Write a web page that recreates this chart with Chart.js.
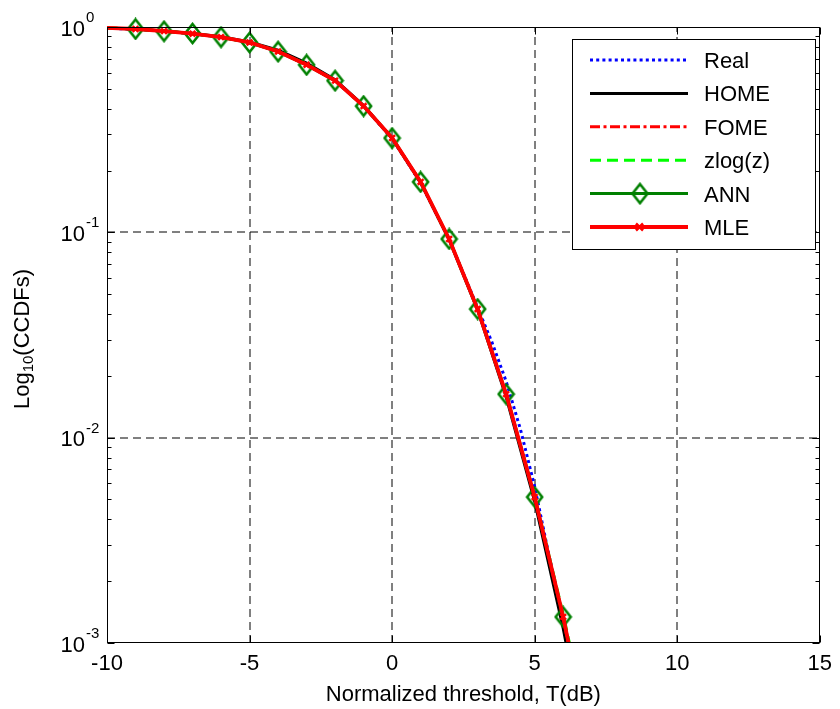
<!DOCTYPE html>
<html>
<head>
<meta charset="utf-8">
<script src="https://cdn.jsdelivr.net/npm/chart.js@4.4.1/dist/chart.umd.min.js"></script>
<style>
html, body { margin: 0; padding: 0; background: #fff; }
</style>
</head>
<body>
<canvas id="ccdfChart" width="840" height="709"></canvas>
<script>
var FONT = "Arial, 'Liberation Sans', Helvetica, sans-serif";

// threshold grid used by the fitted models (dB)
var thresholdDb = [-10, -9, -8, -7, -6, -5, -4, -3, -2, -1, 0, 1, 2, 3, 4, 5, 6, 6.5];
var homeCcdf = [0.99, 0.979, 0.956, 0.930, 0.896, 0.846, 0.772, 0.668, 0.553, 0.414, 0.287, 0.175, 0.0920, 0.0418, 0.0158, 0.00490, 0.00118, 0.00052];
var fomeCcdf = [0.99, 0.978, 0.955, 0.928, 0.893, 0.841, 0.762, 0.656, 0.549, 0.412, 0.288, 0.176, 0.0926, 0.0422, 0.0162, 0.00512, 0.00132, 0.00060];
var zlogCcdf = [0.99, 0.978, 0.955, 0.928, 0.893, 0.841, 0.761, 0.655, 0.548, 0.412, 0.288, 0.176, 0.0927, 0.0423, 0.0164, 0.00518, 0.00138, 0.00066];
var annCcdf  = [null, 0.978, 0.953, 0.930, 0.892, 0.840, 0.759, 0.654, 0.548, 0.412, 0.288, 0.176, 0.0928, 0.0423, 0.0163, 0.00514, 0.00134, 0.00062];
var mleCcdf  = [0.99, 0.978, 0.955, 0.928, 0.893, 0.841, 0.760, 0.655, 0.548, 0.412, 0.288, 0.176, 0.0928, 0.0423, 0.0163, 0.00514, 0.00134, 0.00062];

// measured (empirical) curve has a finer grid in the tail
var realDb   = [-10, -9, -8, -7, -6, -5, -4, -3, -2, -1, 0, 1, 2, 3, 3.5, 4, 4.5, 5, 5.5, 6, 6.5];
var realCcdf = [0.985, 0.976, 0.953, 0.927, 0.892, 0.840, 0.760, 0.655, 0.548, 0.411, 0.286, 0.174, 0.0925, 0.0430, 0.0292, 0.0188, 0.0110, 0.00578, 0.00268, 0.00132, 0.00060];

var xTicks = [-10, -5, 0, 5, 10, 15];
var yExponents = [0, -1, -2, -3];
var seriesNames = ['Real', 'HOME', 'FOME', 'zlog(z)', 'ANN', 'MLE'];

var toPoints = function(xs, ys) {
	var pts = [];
	for (var i = 0; i < xs.length; i++) {
		if (ys[i] === null) continue;
		pts.push({x: xs[i], y: ys[i]});
	}
	return pts;
};

// open diamond marker, a bit taller than wide
var makeDiamond = function(w, h, color, lw) {
	var c = document.createElement('canvas');
	c.width = w + 4; c.height = h + 4;
	var g = c.getContext('2d');
	g.strokeStyle = color;
	g.lineWidth = lw;
	g.beginPath();
	g.moveTo(c.width / 2, 2);
	g.lineTo(c.width - 2, c.height / 2);
	g.lineTo(c.width / 2, c.height - 2);
	g.lineTo(2, c.height / 2);
	g.closePath();
	g.stroke();
	return c;
};
var diamond = makeDiamond(15, 19, '#008000', 2.6);

var hideOffAxis = function(r) {
	return function(ctx) {
		var p = ctx.raw;
		return (p && (p.x < -9.5 || p.x > 6.2)) ? 0 : r;
	};
};

var CLIP = {left: 2, top: 14, right: 2, bottom: 0};

var datasets = [
	{label: seriesNames[0], data: toPoints(realDb, realCcdf), borderColor: '#0000ff', borderWidth: 3, borderDash: [3, 3.2], pointRadius: 0, order: 5},
	{label: seriesNames[1], data: toPoints(thresholdDb, homeCcdf), borderColor: '#000000', borderWidth: 3, pointRadius: 0, order: 4},
	{label: seriesNames[2], data: toPoints(thresholdDb, fomeCcdf), borderColor: '#ff0000', borderWidth: 3, borderDash: [10, 3.5, 3, 3.5], pointRadius: 0, order: 3},
	{label: seriesNames[3], data: toPoints(thresholdDb, zlogCcdf), borderColor: '#00ff00', borderWidth: 3, borderDash: [11, 6], pointRadius: 0, order: 2},
	{label: seriesNames[4], data: toPoints(thresholdDb, annCcdf), borderColor: '#008000', borderWidth: 3, pointStyle: diamond, pointRadius: hideOffAxis(8), order: 1},
	{label: seriesNames[5], data: toPoints(thresholdDb, mleCcdf), borderColor: '#ff0000', borderWidth: 3.8, pointStyle: 'crossRot', pointRadius: hideOffAxis(4), pointBorderWidth: 2.5, pointBorderColor: '#ff0000', order: 0}
];
datasets.forEach(function(d) {
	d.fill = false;
	d.tension = 0;
	d.clip = CLIP;
	d.pointHoverRadius = 0;
});

// dashed grid under the curves
var gridPlugin = {
	id: 'matlabGrid',
	beforeDatasetsDraw: function(chart) {
		var ctx = chart.ctx, a = chart.chartArea;
		var xs = chart.scales.x, ys = chart.scales.y;
		ctx.save();
		ctx.strokeStyle = '#000';
		ctx.lineWidth = 1;
		ctx.setLineDash([8, 5]);
		[-5, 0, 5, 10].forEach(function(v) {
			var x = Math.round(xs.getPixelForValue(v));
			ctx.beginPath(); ctx.moveTo(x, a.bottom); ctx.lineTo(x, a.top); ctx.stroke();
		});
		[0.1, 0.01].forEach(function(v) {
			var y = Math.round(ys.getPixelForValue(v));
			ctx.beginPath(); ctx.moveTo(a.left, y); ctx.lineTo(a.right, y); ctx.stroke();
		});
		ctx.restore();
	},
	afterDatasetsDraw: function(chart) {
		var ctx = chart.ctx, a = chart.chartArea;
		var xs = chart.scales.x, ys = chart.scales.y;
		var L = Math.round(a.left) + 0.5, R = Math.round(a.right) - 0.5;
		var T = Math.round(a.top) + 0.5, B = Math.round(a.bottom) - 0.5;
		ctx.save();
		ctx.strokeStyle = '#000';
		ctx.lineWidth = 1;
		ctx.strokeRect(L, T, R - L, B - T);
		ctx.beginPath();
		xTicks.forEach(function(v) {
			var x = Math.round(xs.getPixelForValue(v)) + 0.5;
			ctx.moveTo(x, B); ctx.lineTo(x, B - 7);
			ctx.moveTo(x, T); ctx.lineTo(x, T + 7);
		});
		[0.001, 0.01, 0.1].forEach(function(d) {
			for (var k = 1; k <= 10; k++) {
				var y = Math.round(ys.getPixelForValue(k * d)) + 0.5;
				var len = (k === 1 || k === 10) ? 7 : 4;
				ctx.moveTo(L, y); ctx.lineTo(L + len, y);
				ctx.moveTo(R, y); ctx.lineTo(R - len, y);
			}
		});
		ctx.stroke();
		ctx.restore();
	}
};

// power-of-ten labels, y title and the boxed legend
var labelPlugin = {
	id: 'labels',
	afterDraw: function(chart) {
		var ctx = chart.ctx;
		var ys = chart.scales.y;
		ctx.save();
		ctx.fillStyle = '#000';
		yExponents.forEach(function(e) {
			var y = ys.getPixelForValue(Math.pow(10, e));
			ctx.font = '22px ' + FONT;
			ctx.textAlign = 'right';
			ctx.textBaseline = 'alphabetic';
			ctx.fillText('10', 85, y + 8.5);
			ctx.font = '15px ' + FONT;
			ctx.textAlign = 'left';
			ctx.fillText(String(e), 86, y - 5);
		});

		// Log10(CCDFs), rotated
		ctx.save();
		ctx.translate(29, 339);
		ctx.rotate(-Math.PI / 2);
		ctx.textAlign = 'left';
		ctx.textBaseline = 'alphabetic';
		ctx.font = '22px ' + FONT;
		var w1 = ctx.measureText('Log').width;
		var w3 = ctx.measureText('(CCDFs)').width;
		ctx.font = '15px ' + FONT;
		var w2 = ctx.measureText('10').width;
		var u = -(w1 + w2 + w3) / 2;
		ctx.font = '22px ' + FONT;
		ctx.fillText('Log', u, 0);
		ctx.font = '15px ' + FONT;
		ctx.fillText('10', u + w1, 4);
		ctx.font = '22px ' + FONT;
		ctx.fillText('(CCDFs)', u + w1 + w2, 0);
		ctx.restore();

		// legend box
		var bx = 572.5, by = 39.5, bw = 243, bh = 210;
		ctx.fillStyle = '#fff';
		ctx.fillRect(bx, by, bw, bh);
		ctx.strokeStyle = '#000';
		ctx.lineWidth = 1;
		ctx.strokeRect(bx, by, bw, bh);
		chart.data.datasets.forEach(function(d, i) {
			var ry = 60 + i * 33.4;
			ctx.save();
			ctx.strokeStyle = d.borderColor;
			ctx.lineWidth = d.borderWidth;
			ctx.setLineDash(d.borderDash || []);
			ctx.beginPath(); ctx.moveTo(590, ry); ctx.lineTo(688, ry); ctx.stroke();
			ctx.setLineDash([]);
			if (d.pointStyle === diamond) {
				ctx.drawImage(diamond, 640 - diamond.width / 2, ry - diamond.height / 2);
			} else if (d.pointStyle === 'crossRot') {
				ctx.lineWidth = 2.5;
				ctx.beginPath();
				ctx.moveTo(636, ry - 3.5); ctx.lineTo(643, ry + 3.5);
				ctx.moveTo(643, ry - 3.5); ctx.lineTo(636, ry + 3.5);
				ctx.stroke();
			}
			ctx.restore();
			ctx.fillStyle = '#000';
			ctx.font = '22px ' + FONT;
			ctx.textAlign = 'left';
			ctx.textBaseline = 'alphabetic';
			ctx.fillText(d.label, 704, ry + 8);
		});
		ctx.restore();
	}
};

new Chart(document.getElementById('ccdfChart'), {
	type: 'line',
	data: {datasets: datasets},
	options: {
		responsive: false,
		animation: false,
		events: [],
		layout: {padding: {left: 107, right: 16, top: 27, bottom: 0}},
		plugins: {legend: {display: false}, tooltip: {enabled: false}},
		scales: {
			x: {
				type: 'linear', min: -10, max: 15, position: 'bottom',
				grid: {display: false, drawTicks: false},
				border: {display: false},
				afterBuildTicks: function(s) { s.ticks = xTicks.map(function(v) { return {value: v}; }); },
				ticks: {color: '#000', font: {family: FONT, size: 22}, padding: 8, maxRotation: 0, autoSkip: false},
				title: {display: true, text: 'Normalized threshold, T(dB)', color: '#000', font: {family: FONT, size: 22}, padding: {top: 0, bottom: 1}},
				afterFit: function(s) { s.height = 66; }
			},
			y: {type: 'logarithmic', min: 0.001, max: 1, display: false}
		}
	},
	plugins: [gridPlugin, labelPlugin]
});
</script>
</body>
</html>
